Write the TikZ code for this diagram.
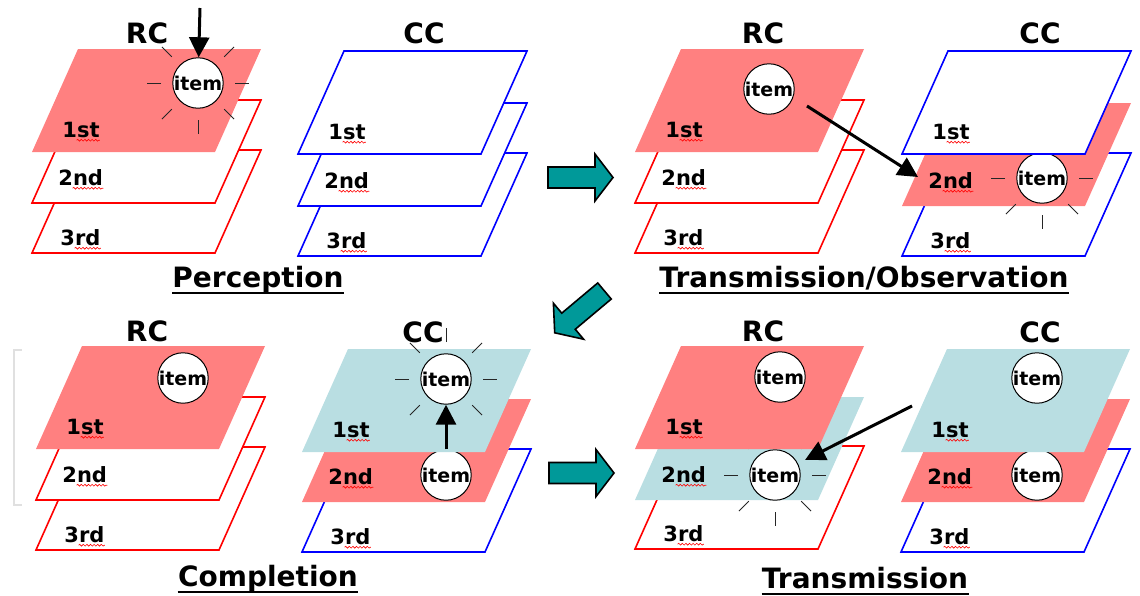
\documentclass[tikz,border=0pt]{standalone}
\usepackage{fontspec}
\setmainfont{DejaVu Sans}
\usetikzlibrary{arrows.meta,calc,decorations.pathmorphing}
\definecolor{rosa}{RGB}{255,128,128}
\definecolor{hellblau}{RGB}{185,222,226}
\definecolor{petrol}{RGB}{0,153,153}
% one layer: bottom left corner, style, label name, label text, label offset
\newcommand\layer[5]{%
  \path[#2] (#1) -- ++(183,0) -- ++(46,-103) -- ++(-183,0) -- cycle;
  \node[lbl] (#3) at ($(#1)+(#5)$) {#4};
  \draw[squig] ([xshift=7.3pt,yshift=-1.6pt]#3.base west) -- ([yshift=-1.6pt]#3.base east);}
% little rays round an item
\newcommand\rays[2]{\foreach \a in {#2} \draw[ray] (#1.center) ++(\a:37) -- ++(\a:14);}
% block arrow: tail centre, angle
\newcommand\bigarrow[2]{%
  \begin{scope}[shift={(#1)},rotate=#2]
    \draw[fat] (0,-10.5) -- (47,-10.5) -- (47,-23.5) -- (65,0) -- (47,23.5) -- (47,10.5) -- (0,10.5) -- cycle;
  \end{scope}}
\begin{document}
\begin{tikzpicture}[x=.5pt,y=-.5pt,>={Triangle[length=10pt,width=10pt]},
  lbl/.style={font=\fontsize{10.5}{12}\selectfont\bfseries,inner sep=0,anchor=base west},
  hdr/.style={font=\fontsize{14}{16}\selectfont\bfseries,inner sep=0,anchor=base},
  ttl/.style={font=\fontsize{14}{16}\selectfont\bfseries,inner sep=0,anchor=base},
  itm/.style={circle,draw,fill=white,line width=.5pt,inner sep=0,minimum size=24.5pt,font=\fontsize{9.5}{10}\selectfont\bfseries},
  redl/.style={draw=red,fill=white,line width=.8pt},
  bluel/.style={draw=blue,fill=white,line width=.8pt},
  rosafl/.style={fill=rosa},
  blaufl/.style={fill=hellblau},
  squig/.style={red,line width=.3pt,decorate,decoration={snake,amplitude=.45pt,segment length=1.8pt}},
  ray/.style={line width=.5pt,black!85},
  pfeil/.style={->,line width=1.5pt},
  fat/.style={draw=black,fill=petrol,line width=.8pt,line join=miter}]
\useasboundingbox (0,0) rectangle (1140,595);
\draw[black!12,line width=1pt] (22,350) -- (14,350) -- (14,505) -- (22,505);

% Perception
\layer{32,253}{redl}{r13}{3rd}{28,-8}
\layer{32,203}{redl}{r12}{2nd}{26,-18}
\layer{32,152}{rosafl}{r11}{1st}{30,-15}
\node[itm] (i1) at (198,83) {item};
\rays{i1}{0,45,90,135,180,225,315}
\layer{298,256}{bluel}{c13}{3rd}{28,-8}
\layer{298,206}{bluel}{c12}{2nd}{26,-18}
\layer{298,154}{bluel}{c11}{1st}{30,-15}
\node[hdr] (h11) at (147,43) {RC};
\node[hdr] (h12) at (424,43) {CC};
\coordinate (d1) at (200,8);
\draw[pfeil] (d1) -- (i1);
\node[ttl] (t1) at (258,287) {Perception};
\draw[line width=.6pt] ([yshift=-3pt]t1.base west) -- ([yshift=-3pt]t1.base east);

% Transmission/Observation
\layer{635,253}{redl}{r23}{3rd}{28,-8}
\layer{635,203}{redl}{r22}{2nd}{26,-18}
\layer{635,152}{rosafl}{r21}{1st}{30,-15}
\node[itm] (i2r) at (769,89) {item};
\layer{902,256}{bluel}{c23}{3rd}{28,-8}
\layer{902,206}{rosafl}{c22}{2nd}{26,-18}
\node[itm] (i2c) at (1042,178) {item};
\rays{i2c}{0,45,90,135,180,225,270,315}
\layer{902,154}{bluel}{c21}{1st}{30,-15}
\node[hdr] (h21) at (763,43) {RC};
\node[hdr] (h22) at (1040,43) {CC};
\coordinate (s2) at (807,106);
\coordinate (e2) at (918,177);
\draw[pfeil] (s2) -- (e2);
\node[ttl] (t2) at (864,287) {Transmission/Observation};
\draw[line width=.6pt] ([yshift=-3pt]t2.base west) -- ([yshift=-3pt]t2.base east);

% Completion
\layer{36,550}{redl}{r33}{3rd}{28,-8}
\layer{36,500}{redl}{r32}{2nd}{26,-18}
\layer{36,449}{rosafl}{r31}{1st}{30,-15}
\node[itm] (i3r) at (183,378) {item};
\layer{302,552}{bluel}{c33}{3rd}{28,-8}
\layer{302,502}{rosafl}{c32}{2nd}{26,-18}
\node[itm] (i3b) at (446,475) {item};
\layer{302,452}{blaufl}{c31}{1st}{30,-15}
\node[itm] (i3a) at (446,379) {item};
\rays{i3a}{0,45,135,180,225,270,315}
\node[hdr] (h31) at (147,341) {RC};
\node[hdr] (h32) at (423,342) {CC};
\draw[pfeil] (i3b) -- (i3a);
\node[ttl] (t3) at (268,586) {Completion};
\draw[line width=.6pt] ([yshift=-3pt]t3.base west) -- ([yshift=-3pt]t3.base east);

% Transmission
\layer{635,549}{redl}{r43}{3rd}{28,-8}
\layer{635,500}{blaufl}{r42}{2nd}{26,-18}
\node[itm] (i4b) at (775,475) {item};
\rays{i4b}{0,45,90,135,180,225,270,315}
\layer{635,449}{rosafl}{r41}{1st}{30,-15}
\node[itm] (i4a) at (780,377) {item};
\layer{901,552}{bluel}{c43}{3rd}{28,-8}
\layer{901,502}{rosafl}{c42}{2nd}{26,-18}
\node[itm] (i4d) at (1037,475) {item};
\layer{901,452}{blaufl}{c41}{1st}{30,-15}
\node[itm] (i4c) at (1037,378) {item};
\node[hdr] (h41) at (763,341) {RC};
\node[hdr] (h42) at (1040,342) {CC};
\coordinate (s4) at (912,406);
\draw[pfeil,shorten >=4pt] (s4) -- (i4b);
\node[ttl] (t4) at (865,588) {Transmission};
\draw[line width=.6pt] ([yshift=-3pt]t4.base west) -- ([yshift=-3pt]t4.base east);

% block arrows between the stages
\bigarrow{548,177.5}{0}
\bigarrow{604.5,291}{220}
\bigarrow{549,473}{0}
\end{tikzpicture}
\end{document}
